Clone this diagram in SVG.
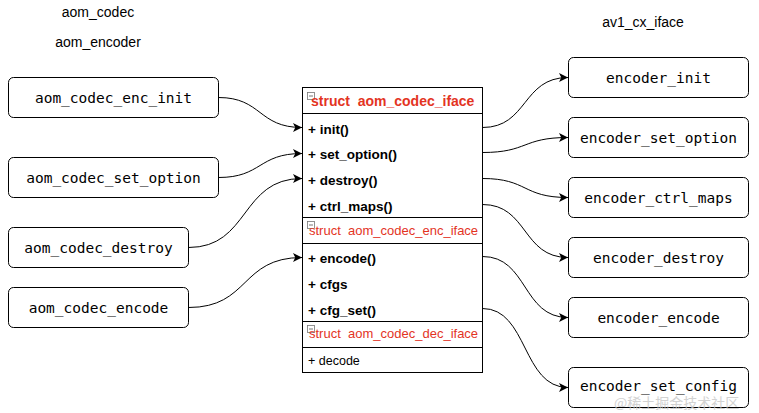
<svg xmlns="http://www.w3.org/2000/svg" width="759" height="413" viewBox="0 0 759 413">
<style>
.box{fill:#fff;stroke:#000;stroke-width:1}
.lbl{font-family:"DejaVu Sans Mono","Liberation Mono",monospace;font-size:14.5px;fill:#000;text-anchor:middle;dominant-baseline:central}
.title{font-family:"Liberation Sans",Arial,sans-serif;font-size:14px;fill:#000;text-anchor:middle;dominant-baseline:central}
.hdr{font-family:"Liberation Sans",Arial,sans-serif;font-size:13px;fill:#e3341f;white-space:pre;dominant-baseline:central}
.hdr1{font-size:14px;font-weight:bold}
.row{font-family:"Liberation Sans",Arial,sans-serif;font-size:13.5px;font-weight:bold;fill:#000;dominant-baseline:central}
.plain{font-family:"Liberation Sans",Arial,sans-serif;font-size:12.5px;font-weight:normal;fill:#000;dominant-baseline:central}
.edge{fill:none;stroke:#000;stroke-width:1}
.sep{stroke:#000;stroke-width:1}
.icon{fill:#fff;stroke:#777;stroke-width:0.8}
</style>
<defs>
<marker id="arr" viewBox="0 0 10 10" refX="10" refY="5" markerWidth="9" markerHeight="9" markerUnits="userSpaceOnUse" orient="auto">
<path d="M0,0 L10,5 L0,10 L2.5,5 Z" fill="#000"/>
</marker>
</defs>
<rect width="759" height="413" fill="#fff"/>

<g id="titles">
<text class="title" x="98" y="12">aom_codec</text>
<text class="title" x="98" y="42">aom_encoder</text>
<text class="title" x="643" y="22">av1_cx_iface</text>
</g>

<g id="n_enc_init"><rect class="box" x="8.5" y="77.5" width="210" height="40" rx="5"/><text class="lbl" x="113.5" y="97.5">aom_codec_enc_init</text></g>
<g id="n_set_option"><rect class="box" x="8.5" y="157.5" width="210" height="40" rx="5"/><text class="lbl" x="113.5" y="177.5">aom_codec_set_option</text></g>
<g id="n_destroy"><rect class="box" x="8.5" y="227.5" width="180" height="40" rx="5"/><text class="lbl" x="98.5" y="247.5">aom_codec_destroy</text></g>
<g id="n_encode"><rect class="box" x="8.5" y="287.5" width="180" height="40" rx="5"/><text class="lbl" x="98.5" y="307.5">aom_codec_encode</text></g>

<g id="n_e_init"><rect class="box" x="568.5" y="57.5" width="180" height="40" rx="5"/><text class="lbl" x="658.5" y="77.5">encoder_init</text></g>
<g id="n_e_set_option"><rect class="box" x="568.5" y="117.5" width="180" height="40" rx="5"/><text class="lbl" x="658.5" y="137.5">encoder_set_option</text></g>
<g id="n_e_ctrl_maps"><rect class="box" x="568.5" y="177.5" width="180" height="40" rx="5"/><text class="lbl" x="658.5" y="197.5">encoder_ctrl_maps</text></g>
<g id="n_e_destroy"><rect class="box" x="568.5" y="237.5" width="180" height="40" rx="5"/><text class="lbl" x="658.5" y="257.5">encoder_destroy</text></g>
<g id="n_e_encode"><rect class="box" x="568.5" y="297.5" width="180" height="40" rx="5"/><text class="lbl" x="658.5" y="317.5">encoder_encode</text></g>
<g id="n_e_set_config"><rect class="box" x="568.5" y="367.5" width="180" height="40" rx="5"/><text class="lbl" x="658.5" y="385.5">encoder_set_config</text></g>

<g id="n_iface">
<rect class="box" x="302.5" y="87.5" width="180" height="285"/>
<line class="sep" x1="302.5" y1="113.5" x2="482.5" y2="113.5"/>
<line class="sep" x1="302.5" y1="217.5" x2="482.5" y2="217.5"/>
<line class="sep" x1="302.5" y1="243.5" x2="482.5" y2="243.5"/>
<line class="sep" x1="302.5" y1="321.5" x2="482.5" y2="321.5"/>
<line class="sep" x1="302.5" y1="347.5" x2="482.5" y2="347.5"/>
<rect class="icon" x="307.5" y="92.5" width="7" height="7"/><line x1="309" y1="96" x2="313" y2="96" stroke="#555" stroke-width="0.8"/>
<text class="hdr hdr1" x="311" y="101">struct  aom_codec_iface</text>
<text class="row" x="308" y="129">+ init()</text>
<text class="row" x="308" y="154.5">+ set_option()</text>
<text class="row" x="308" y="180">+ destroy()</text>
<text class="row" x="308" y="206">+ ctrl_maps()</text>
<rect class="icon" x="307.5" y="221.5" width="7" height="7"/><line x1="309" y1="225" x2="313" y2="225" stroke="#555" stroke-width="0.8"/>
<text class="hdr" x="309" y="230">struct  aom_codec_enc_iface</text>
<text class="row" x="308" y="258">+ encode()</text>
<text class="row" x="308" y="284">+ cfgs</text>
<text class="row" x="308" y="310.5">+ cfg_set()</text>
<rect class="icon" x="307.5" y="325.5" width="7" height="7"/><line x1="309" y1="329" x2="313" y2="329" stroke="#555" stroke-width="0.8"/>
<text class="hdr" x="309" y="333.5">struct  aom_codec_dec_iface</text>
<text class="plain" x="308" y="361">+ decode</text>
</g>

<g id="connectors">
<path class="edge" marker-end="url(#arr)" d="M218.5,97.5 C262,97.5 258,127.5 302,127.5"/>
<path class="edge" marker-end="url(#arr)" d="M218.5,177.5 C262,177.5 258,153.5 302,153.5"/>
<path class="edge" marker-end="url(#arr)" d="M188.5,247.5 C250,247.5 240,178.5 302,178.5"/>
<path class="edge" marker-end="url(#arr)" d="M188.5,307.5 C250,307.5 240,257.5 302,257.5"/>
<path class="edge" marker-end="url(#arr)" d="M482.5,127.5 C528,127.5 522,77.5 568,77.5"/>
<path class="edge" marker-end="url(#arr)" d="M482.5,152.5 C528,152.5 522,137.5 568,137.5"/>
<path class="edge" marker-end="url(#arr)" d="M482.5,178.5 C528,178.5 522,197.5 568,197.5"/>
<path class="edge" marker-end="url(#arr)" d="M482.5,204.5 C528,204.5 522,257.5 568,257.5"/>
<path class="edge" marker-end="url(#arr)" d="M482.5,256.5 C528,256.5 522,317.5 568,317.5"/>
<path class="edge" marker-end="url(#arr)" d="M482.5,308.5 C528,308.5 522,387.5 568,387.5"/>
</g>

<text x="614" y="408" font-family="'Noto Sans CJK SC',sans-serif" font-size="14" fill="#c8c8c8" opacity="0.8">@稀土掘金技术社区</text>
</svg>
